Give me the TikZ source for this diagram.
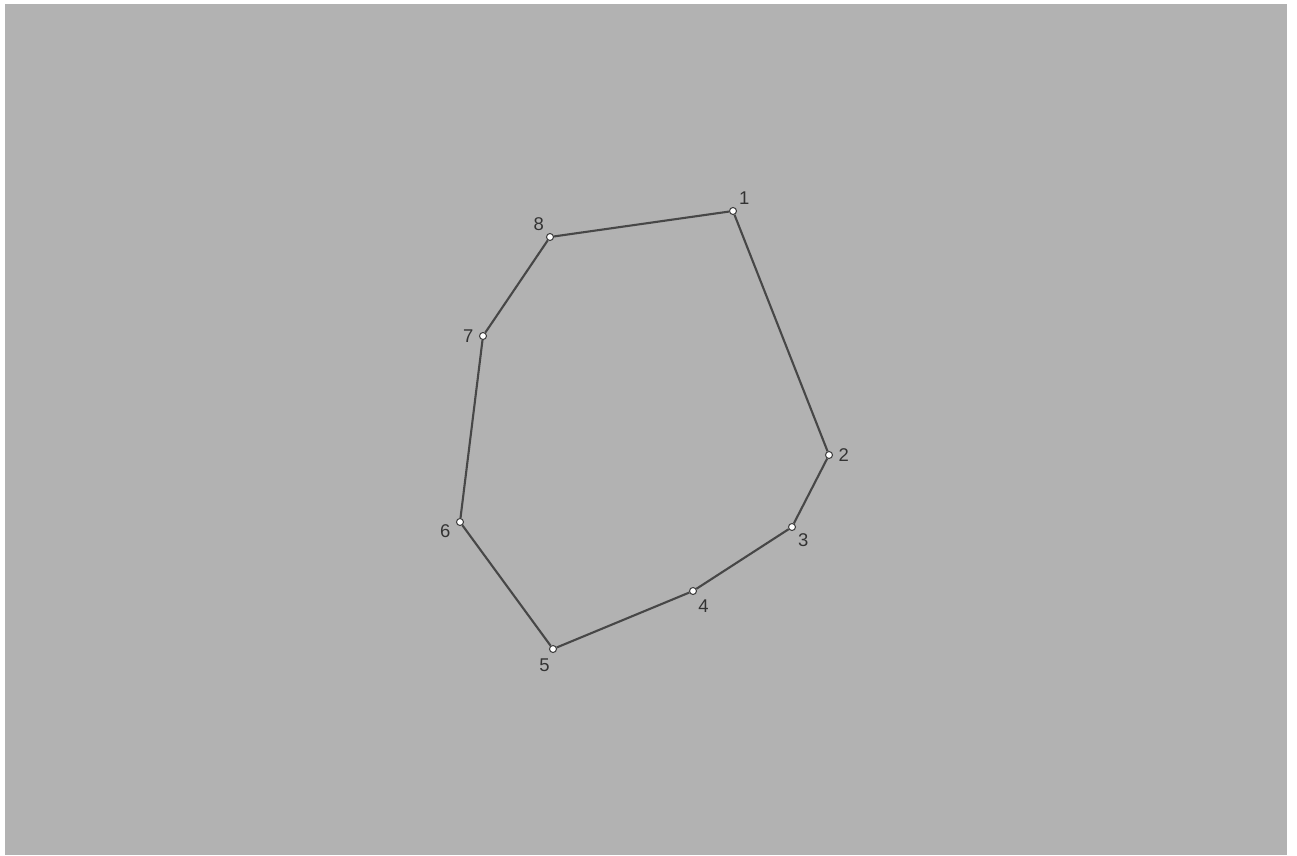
\documentclass[tikz,border=0pt]{standalone}
\usepackage{fontspec}
\setmainfont{Liberation Sans}
\usepackage{tikz}
\usetikzlibrary{positioning}

\begin{document}
\begin{tikzpicture}[x=0.02cm, y=-0.02cm,
    pt/.style={circle, draw=black!75, fill=white, line width=0.6pt, inner sep=0pt, minimum size=0.14cm},
    lbl/.style={text=black!80, font=\fontsize{10.5}{11}\selectfont, inner sep=1pt},
    edge/.style={draw=black!72, line width=1.2pt}]

    \useasboundingbox (0,0) rectangle (1297,855);
    \fill[black!30] (5,4) rectangle (1287,855);

    \node[pt, label={[lbl, label distance=1pt]above right:1}] (v1) at (733,211) {};
    \node[pt, label={[lbl, label distance=2pt]right:2}] (v2) at (829,455) {};
    \node[pt, label={[lbl, label distance=1pt]-45:3}] (v3) at (792,527) {};
    \node[pt, label={[lbl, label distance=2pt]-65:4}] (v4) at (693,591) {};
    \node[pt, label={[lbl, label distance=2pt]-100:5}] (v5) at (553,649) {};
    \node[pt, label={[lbl, label distance=2pt]183:6}] (v6) at (460,522) {};
    \node[pt, label={[lbl, label distance=2pt]178:7}] (v7) at (483,336) {};
    \node[pt, label={[lbl, label distance=1pt]above left:8}] (v8) at (550,237) {};

    \draw[edge] (v1) -- (v2) -- (v3) -- (v4) -- (v5) -- (v6) -- (v7) -- (v8) -- (v1);
\end{tikzpicture}
\end{document}
